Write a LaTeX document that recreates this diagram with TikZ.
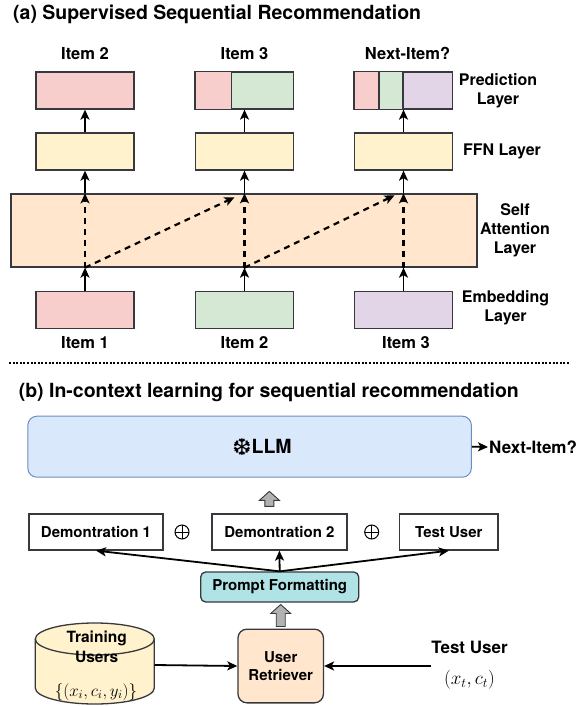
\RequirePackage{fix-cm}
\documentclass[tikz,border=0pt]{standalone}
\usepackage{amsmath}
\usepackage{fontspec}
\setmainfont{TeX Gyre Heros}
\newfontfamily\symfont{DejaVu Sans}
\usetikzlibrary{arrows.meta,calc}
\definecolor{itemred}{HTML}{F8CECC}
\definecolor{itemgreen}{HTML}{D5E8D4}
\definecolor{itempurple}{HTML}{E1D5E7}
\definecolor{ffnyellow}{HTML}{FFF2CC}
\definecolor{attnpeach}{HTML}{FFE6CC}
\definecolor{llmblue}{HTML}{DAE8FC}
\definecolor{llmedge}{HTML}{6C8EBF}
\definecolor{promptcyan}{HTML}{B0E3E6}
\definecolor{boxedge}{HTML}{36393D}
\tikzset{
    box/.style = {draw=boxedge, line width=1.3pt, minimum width=98pt, minimum height=37pt, inner sep=0pt},
    demobox/.style = {draw=boxedge, line width=1.3pt, minimum height=36pt, inner sep=0pt, font=\fontsize{15}{18}\selectfont\bfseries},
    arr/.style = {line width=1.8pt, -{Stealth[length=10pt,width=9pt,inset=2.5pt]}},
    darr/.style = {arr, line width=2.2pt, dash pattern=on 6pt off 5pt},
    title/.style = {anchor=west, inner sep=0pt, font=\fontsize{19.5}{22}\selectfont\bfseries},
    itemlbl/.style = {anchor=base, inner sep=0pt, font=\fontsize{16.5}{19}\selectfont\bfseries},
    side/.style = {align=center, inner sep=0pt, font=\fontsize{16}{19}\selectfont\bfseries},
    oplus/.style = {circle, draw, line width=1pt, minimum size=14pt, inner sep=0pt,
        path picture={\draw[line width=1pt] (path picture bounding box.north) -- (path picture bounding box.south)
        (path picture bounding box.west) -- (path picture bounding box.east);}},
    blockup/.pic = {
    \draw[fill=gray!60, draw=boxedge, line width=0.9pt] (-4.5,#1) -- (-4.5,-#1+9) -- (-10,-#1+9) -- (0,-#1)
        -- (10,-#1+9) -- (4.5,-#1+9) -- (4.5,#1) -- cycle;
    }
}
\begin{document}
\begin{tikzpicture}[x=1pt, y=-1pt, line cap=butt, line join=miter]
\useasboundingbox (0,0) rectangle (581,706);

\node[title] (ta) at (13,14) {(a) Supervised Sequential Recommendation};

\node[box, fill=itemred] (p1) at (85,90.5) {};
\node[box, fill=itemgreen] (p2) at (244.5,90.5) {};
\draw[draw=boxedge, line width=1.3pt, fill=itemred] (p2.north west) rectangle ([xshift=36.5pt]p2.south west);
\node[box, fill=itempurple] (p3) at (403.5,90.5) {};
\draw[draw=boxedge, line width=1.3pt, fill=itemgreen] ([xshift=25pt]p3.north west) rectangle ([xshift=49pt]p3.south west);
\draw[draw=boxedge, line width=1.3pt, fill=itemred] (p3.north west) rectangle ([xshift=25pt]p3.south west);

\node[box, fill=ffnyellow] (f1) at (85,151.5) {};
\node[box, fill=ffnyellow] (f2) at (244.5,151.5) {};
\node[box, fill=ffnyellow] (f3) at (403.5,151.5) {};

\node[draw=boxedge, line width=1.3pt, fill=attnpeach, minimum width=466pt, minimum height=73pt] (att) at (244,230.5) {};

\node[box, fill=itemred] (e1) at (85,310) {};
\node[box, fill=itemgreen] (e2) at (244.5,310) {};
\node[box, fill=itempurple] (e3) at (403.5,310) {};

\node[itemlbl] (o2) at (85,60) {Item 2};
\node[itemlbl] (o3) at (244.5,60) {Item 3};
\node[itemlbl] (onext) at (407.5,60) {Next-Item?};
\node[itemlbl] (i1) at (85,348.5) {Item 1};
\node[itemlbl] (i2) at (244.5,348.5) {Item 2};
\node[itemlbl] (i3) at (406,348.5) {Item 3};

\node[side] (lpred) at (498,91) {Prediction\\Layer};
\node[side] (lffn) at (502,151) {FFN Layer};
\node[side] (latt) at (515,230) {Self\\Attention\\Layer};
\node[side] (lemb) at (505.5,308) {Embedding\\Layer};

\coordinate (a1) at (e1 |- att.south);
\coordinate (a2) at (e2 |- att.south);
\coordinate (a3) at (e3 |- att.south);
\coordinate (b1) at (f1 |- att.north);
\coordinate (b2) at (f2 |- att.north);
\coordinate (b3) at (f3 |- att.north);

\draw[arr] (e1) -- (a1);
\draw[arr] (e2) -- (a2);
\draw[arr] (e3) -- (a3);
\draw[darr] (a1) -- (b1);
\draw[darr] (a2) -- (b2);
\draw[darr] (a3) -- (b3);
\draw[darr] (a1) -- ([shift={(-10,4)}]b2);
\draw[darr] (a2) -- ([shift={(-9,2)}]b3);
\draw[arr] (b1) -- (f1);
\draw[arr] (b2) -- (f2);
\draw[arr] (b3) -- (f3);
\draw[arr] (f1) -- (p1);
\draw[arr] (f2) -- (p2);
\draw[arr] (f3) -- (p3);

\draw[line width=2pt, dash pattern=on 2pt off 1.6pt] (9,363) -- (569,363);

\node[title] (tb) at (18.6,392) {(b) In-context learning for sequential recommendation};

\node[draw=llmedge, line width=1pt, fill=llmblue, rounded corners=9pt, minimum width=443.5pt, minimum height=61pt] (llm) at (249.6,446.7) {};
\node[inner sep=0pt, font=\fontsize{19.5}{22}\selectfont\bfseries] (llmlbl) at (262,447) {\raisebox{-1.5pt}{\fontsize{23}{23}\selectfont\symfont ❆}LLM};
\node[anchor=west, inner sep=1pt, font=\fontsize{17}{19}\selectfont\bfseries] (nxt) at (488,447) {Next-Item?};
\draw[arr] (llm.east) -- (nxt.west);

\node[demobox, minimum width=134pt] (d1) at (96,532) {Demontration 1};
\node[oplus] (plus1) at (182,532) {};
\node[demobox, minimum width=135pt] (d2) at (279.4,532) {Demontration 2};
\node[oplus] (plus2) at (371.7,532) {};
\node[demobox, minimum width=98.5pt] (d3) at (448.8,532) {Test User};
\path (d2.north) ++(-10,-14.5) pic {blockup=7.5};

\node[draw=boxedge, line width=1.3pt, fill=promptcyan, rounded corners=5pt, minimum width=158pt, minimum height=30pt,
    font=\fontsize{15}{18}\selectfont\bfseries] (pf) at (279.7,587) {Prompt Formatting};
\draw[arr] (pf.north) -- (d1.south);
\draw[arr] (pf.north) -- (d2.south);
\draw[arr] (pf.north) -- (d3.south);

\draw[draw=boxedge, line width=1.3pt, fill=ffnyellow] (35.3,639) -- (35.3,688)
    arc[start angle=180, end angle=0, x radius=59.5, y radius=16] -- (154.3,639)
    arc[start angle=0, end angle=-180, x radius=59.5, y radius=16] -- cycle;
\draw[draw=boxedge, line width=1.3pt] (35.3,639) arc[start angle=180, end angle=0, x radius=59.5, y radius=16];
\node[minimum width=119pt, minimum height=82pt, inner sep=0pt] (db) at (94.8,665) {};
\node[side, font=\fontsize{15.5}{19.5}\selectfont\bfseries] (dblbl) at (96.7,647) {Training\\Users};
\node[inner sep=0pt, font=\fontsize{17}{20}\selectfont] (dbset) at (96,692) {$\{(x_i,c_i,y_i)\}$};

\node[draw=boxedge, line width=1.3pt, fill=attnpeach, rounded corners=9pt, minimum width=85.5pt, minimum height=73.7pt,
    align=center, font=\fontsize{15}{18.3}\selectfont\bfseries] (ret) at (280.7,666) {User\\Retriever};
\path (ret.north) ++(0,-13) pic {blockup=11};

\node[inner sep=0pt, font=\fontsize{17}{19}\selectfont\bfseries] (tu) at (469.5,647) {Test User};
\node[inner sep=0pt, font=\fontsize{19}{20}\selectfont] (tuset) at (469.5,680) {$(x_t,c_t)$};
\coordinate (tuin) at (431,666);
\draw[arr] (db.east) -- (ret.west);
\draw[arr] (tuin) -- (ret.east);
\end{tikzpicture}
\end{document}
